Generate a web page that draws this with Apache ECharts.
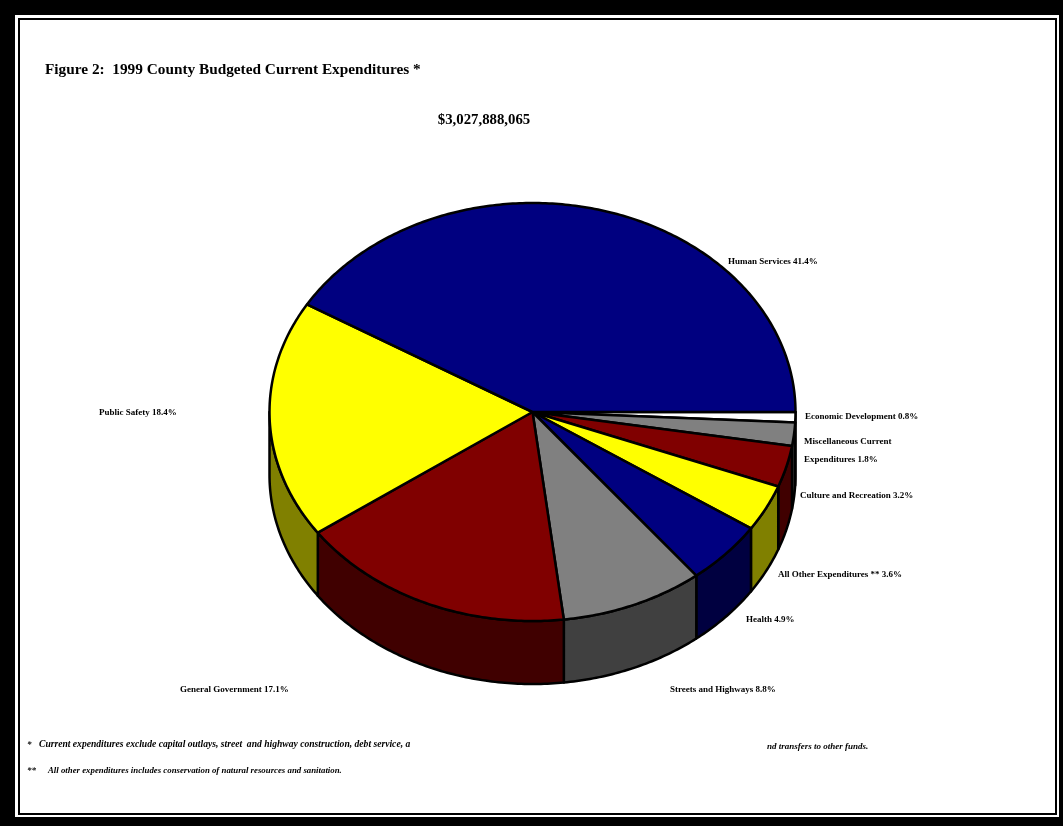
<!DOCTYPE html>
<html>
<head>
<meta charset="utf-8">
<script src="https://cdn.jsdelivr.net/npm/echarts/dist/echarts.min.js"></script>
<style>
html,body{margin:0;padding:0;background:#000;width:1063px;height:826px;overflow:hidden}
#paper{position:absolute;left:15px;top:15px;width:1044px;height:802px;background:#fff}
#rule{position:absolute;left:18px;top:18px;width:1035px;height:793px;border:2px solid #000}
#chart{position:absolute;left:0;top:0;width:1063px;height:826px}
</style>
</head>
<body>
<div id="paper"></div>
<div id="rule"></div>
<div id="chart"></div>
<script>
// ---- data (clockwise from 3 o'clock) ----
const categories = [
  'Economic Development',
  'Miscellaneous Current Expenditures',
  'Culture and Recreation',
  'All Other Expenditures **',
  'Health',
  'Streets and Highways',
  'General Government',
  'Public Safety',
  'Human Services'
];
const values = [0.8, 1.8, 3.2, 3.6, 4.9, 8.8, 17.1, 18.4, 41.4];
const labelNames = [
  'Economic Development',
  'Miscellaneous Current\nExpenditures',
  'Culture and Recreation',
  'All Other Expenditures **',
  'Health',
  'Streets and Highways',
  'General Government',
  'Public Safety',
  'Human Services'
];
const titleText = 'Figure 2:  1999 County Budgeted Current Expenditures *';
const totalText = '$3,027,888,065';

// ---- styles / layout ----
const topColors  = ['#FFFFFF', '#808080', '#800000', '#FFFF00', '#000080', '#808080', '#800000', '#FFFF00', '#000080'];
const sideColors = ['#808080', '#404040', '#400000', '#808000', '#000040', '#404040', '#400000', '#808000', '#000040'];
const labelLayout = [
  [805, 417], [804, 451], [800, 496], [778, 575], [746, 620],
  [670, 690], [180, 690], [99, 413], [728, 262]
];
const FLAT = 209 / 263;   // vertical squash of the tilted pie
const DEPTH = 63;         // thickness of the pie in px
const SERIF = "'Liberation Serif','Times New Roman',serif";

let acc = 0;
const sliceData = values.map((v, i) => {
  const item = [1, acc, acc + v, i];
  acc += v;
  return item;
});

function renderSlice(params, api) {
  const s = api.value(1), e = api.value(2), i = api.value(3);
  const c = api.coord([0, 0]);
  const pt = (a, dy) => {
    const p = api.coord([1, a]);
    return [p[0], c[1] + (p[1] - c[1]) * FLAT + (dy || 0)];
  };
  const arc = (a, b, dy) => {
    const out = [];
    const n = Math.max(2, Math.ceil((b - a) / 0.2));
    for (let k = 0; k <= n; k++) out.push(pt(a + (b - a) * k / n, dy));
    return out;
  };
  const children = [];
  const ws = Math.max(s, 0), we = Math.min(e, 50);
  if (we > ws) {
    const top = arc(ws, we, 0);
    const bot = arc(ws, we, DEPTH).reverse();
    children.push({
      type: 'polygon',
      shape: { points: top.concat(bot) },
      style: { fill: sideColors[i], stroke: '#000', lineWidth: 2.5, lineJoin: 'round' }
    });
  }
  const face = [[c[0], c[1]]].concat(arc(s, e, 0));
  children.push({
    type: 'polygon',
    shape: { points: face },
    style: { fill: topColors[i], stroke: '#000', lineWidth: 2.5, lineJoin: 'round' }
  });
  return { type: 'group', children };
}

const texts = [];
const txt = (x, y, text, size, italic, align) => texts.push({
  type: 'text', x, y, silent: true,
  style: {
    text, fill: '#000',
    fontFamily: SERIF, fontSize: size, fontWeight: 'bold', fontStyle: italic ? 'italic' : 'normal',
    align: align || 'left', verticalAlign: 'middle', lineHeight: 18
  }
});
txt(45, 70, titleText, 15.3);
txt(484, 120, totalText, 14.8, false, 'center');
categories.forEach((c, i) => {
  txt(labelLayout[i][0], labelLayout[i][1], labelNames[i] + ' ' + values[i].toFixed(1) + '%', 9);
});
txt(27, 745, '*', 9, true);
txt(39, 745, 'Current expenditures exclude capital outlays, street  and highway construction, debt service, a', 9.6, true);
txt(767, 747, 'nd transfers to other funds.', 9, true);
txt(27, 771, '**', 9, true);
txt(48, 771, 'All other expenditures includes conservation of natural resources and sanitation.', 8.8, true);

const chart = echarts.init(document.getElementById('chart'), null, { renderer: 'canvas' });
chart.setOption({
  animation: false,
  backgroundColor: 'transparent',
  polar: { center: [532.5, 412], radius: 263 },
  angleAxis: { type: 'value', min: 0, max: 100, startAngle: 0, clockwise: true, show: false },
  radiusAxis: { type: 'value', min: 0, max: 1, show: false },
  series: [{
    type: 'custom',
    coordinateSystem: 'polar',
    renderItem: renderSlice,
    data: sliceData,
    silent: true
  }],
  graphic: texts
});
</script>
</body>
</html>
